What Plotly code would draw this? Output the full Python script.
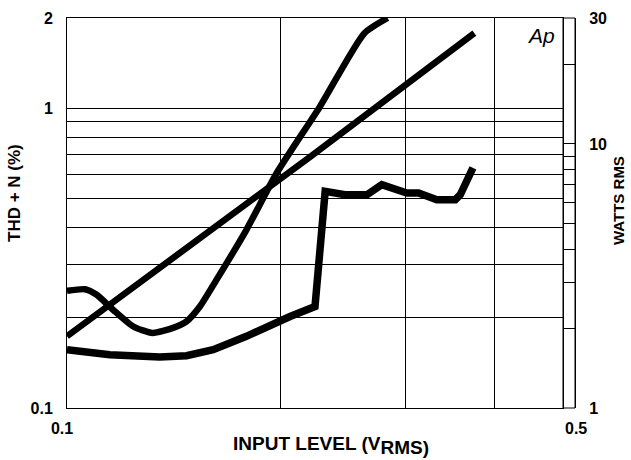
import math
import plotly.graph_objects as go

# ---- data ----
# Output power (right axis, W) vs input level (V rms)
power_v = [0.1, 0.2208, 0.375]
power_w = [1.87, 9.0, 26.3]

# THD+N curve A (left axis, %)
thd_a_v = [0.100, 0.106, 0.110, 0.1161, 0.124, 0.132, 0.1411, 0.1474, 0.1539,
           0.1625, 0.179, 0.1975, 0.2273, 0.2625, 0.283]
thd_a = [0.246, 0.249, 0.239, 0.2128, 0.187, 0.178, 0.185, 0.1945, 0.218,
         0.268, 0.393, 0.608, 1.014, 1.78, 2.0]

# THD+N curve B (left axis, %)
thd_b_v = [0.100, 0.1149, 0.1351, 0.1474, 0.1607, 0.179, 0.2062, 0.2236, 0.2311,
           0.2465, 0.2646, 0.2777, 0.3013, 0.3129, 0.3320, 0.3525, 0.3582, 0.3733]
thd_b = [0.1565, 0.1506, 0.148, 0.1494, 0.1565, 0.1734, 0.202, 0.218, 0.528,
         0.5145, 0.5145, 0.5557, 0.5213, 0.5213, 0.4953, 0.4953, 0.5145, 0.632]

x_ticks = [0.1, 0.2, 0.3, 0.4, 0.5]
x_ticktext = ["0.1", "", "", "", ""]
y_ticks = [0.1, 0.2, 0.3, 0.4, 0.5, 0.6, 0.7, 0.8, 0.9, 1, 2]
y_ticktext = ["0.1", "", "", "", "", "", "", "", "", "1", "2"]
y2_ticks = [1, 2, 3, 4, 5, 6, 7, 8, 9, 10, 20, 30]
y2_ticktext = ["1", "", "", "", "", "", "", "", "", "10", "", "30"]

FONT = "Liberation Sans"
W, H = 631, 460
ML, MR, MT, MB = 67, 56, 18, 52
PW = W - ML - MR
PH = H - MT - MB
XDOM_END = 496.0 / PW
TICKF = dict(family=FONT, size=16, weight="bold")


def px_x(px):
    return (px - ML) / PW


def px_y(py):
    return (H - MB - py) / PH


fig = go.Figure()
fig.add_trace(go.Scatter(x=thd_b_v, y=thd_b, mode="lines",
                         line=dict(color="black", width=7.5), yaxis="y"))
fig.add_trace(go.Scatter(x=thd_a_v, y=thd_a, mode="lines",
                         line=dict(color="black", width=6.5, shape="spline", smoothing=0.6), yaxis="y"))
fig.add_trace(go.Scatter(x=power_v, y=power_w, mode="lines",
                         line=dict(color="black", width=6.5), yaxis="y2"))

fig.update_layout(
    width=W, height=H,
    margin=dict(l=ML, r=MR, t=MT, b=MB, autoexpand=False),
    paper_bgcolor="white", plot_bgcolor="white",
    showlegend=False,
    font=dict(family=FONT, size=16, color="black", weight="bold"),
    xaxis=dict(
        type="log", range=[-1, math.log10(0.5)], domain=[0, XDOM_END],
        tickvals=x_ticks, ticktext=x_ticktext, ticks="",
        showgrid=True, gridcolor="black", gridwidth=1,
        showline=True, linecolor="black", linewidth=1, mirror=True,
        zeroline=False, ticklabelstandoff=6, ticklabelshift=-5,
        tickfont=TICKF, automargin=False,
    ),
    yaxis=dict(
        type="log", range=[-1, math.log10(2)],
        tickvals=y_ticks, ticktext=y_ticktext, ticks="",
        showgrid=True, gridcolor="black", gridwidth=1,
        showline=True, linecolor="black", linewidth=1, mirror=True,
        zeroline=False, ticklabelstandoff=10,
        tickfont=TICKF, automargin=False,
    ),
    yaxis2=dict(
        type="log", range=[0, math.log10(30)], overlaying="y", side="right",
        anchor="free", position=1.0,
        tickvals=y2_ticks, ticktext=y2_ticktext,
        ticks="inside", ticklen=12, tickcolor="black", tickwidth=1,
        showgrid=False, showline=True, linecolor="black", linewidth=1,
        zeroline=False, ticklabelstandoff=10,
        tickfont=TICKF, automargin=False,
    ),
    shapes=[
        dict(type="rect", xref="paper", yref="paper", x0=XDOM_END, x1=1.0, y0=0, y1=1,
             line=dict(color="black", width=1)),
    ],
    annotations=[
        # x-axis upper tick label
        dict(x=math.log10(0.5), y=0, xref="x", yref="paper", text="0.5", showarrow=False,
             xanchor="center", yanchor="top", xshift=13, yshift=-10, font=TICKF),
        # axis titles
        dict(x=px_x(331), y=px_y(445), xref="paper", yref="paper",
             text='INPUT LEVEL (V<sub><span style="font-size:19px">RMS)</span></sub>',
             showarrow=False, xanchor="center", yanchor="middle",
             font=dict(family=FONT, size=19, weight="bold")),
        dict(x=px_x(15), y=px_y(193), xref="paper", yref="paper",
             text="THD + N (%)", textangle=-90, showarrow=False,
             xanchor="center", yanchor="middle",
             font=dict(family=FONT, size=17, weight="bold")),
        dict(x=px_x(618), y=px_y(201), xref="paper", yref="paper",
             text="WATTS RMS", textangle=-90, showarrow=False,
             xanchor="center", yanchor="middle",
             font=dict(family=FONT, size=15, weight="bold")),
        # Audio Precision mark
        dict(x=px_x(557), y=px_y(22), xref="paper", yref="paper",
             text="<i>Ap</i>", showarrow=False, xanchor="right", yanchor="top",
             font=dict(family=FONT, size=21, weight="normal")),
    ],
)

fig.write_html("out.html")
